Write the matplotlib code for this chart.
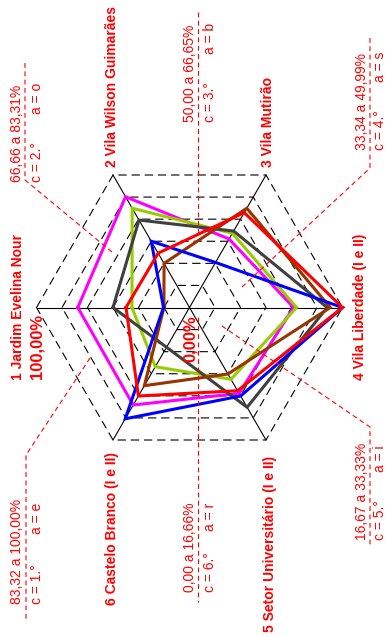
import numpy as np
import matplotlib
matplotlib.use('Agg')
import matplotlib.pyplot as plt

plt.rcParams['font.family'] = ['Liberation Sans', 'DejaVu Sans']
plt.rcParams['lines.scale_dashes'] = False

# eixos do radar (bairros), sentido horario a partir da esquerda
bairros = ['1 Jardim Evelina Nour', '2 Vila Wilson Guimarães', '3 Vila Mutirão',
           '4 Vila Liberdade (I e II)', '5 Setor Universitário (I e II)',
           '6 Castelo Branco (I e II)']

# valores (%) de cada serie, eixos 1 a 6
magenta = [73.0, 83.6, 51.7, 68.0, 64.8, 73.6]
verde = [37.6, 74.9, 56.0, 70.0, 54.2, 44.7]
cinza = [50.0, 66.0, 57.7, 90.0, 75.3, 30.0]
marrom = [16.7, 33.3, 74.9, 92.0, 50.2, 59.0]
azul = [17.0, 50.0, 34.0, 100.0, 66.8, 84.0]
vermelho = [41.5, 41.0, 71.6, 100.0, 62.8, 66.8]

series = [(magenta, '#FF00FF'), (verde, '#99CC00'), (cinza, '#404040'),
          (marrom, '#993300'), (azul, '#0000FF'), (vermelho, '#FF0000')]

# niveis da grade (%)
niveis = [100 / 6 * k for k in range(1, 7)]

# classes (texto de cada chamada)
classes = [('83,32 a 100,00%', 'c = 1.°', 'a = e'),
           ('66,66 a 83,31%', 'c = 2.°', 'a = o'),
           ('50,00 a 66,65%', 'c = 3.°', 'a = b'),
           ('33,34 a 49,99%', 'c = 4.°', 'a = s'),
           ('16,67 a 33,33%', 'c = 5.°', 'a = i'),
           ('0,00 a 16,66%', 'c = 6.°', 'a = r')]

W, H = 387, 637
CX, CY, R = 189.5, 307.5, 153.0
RED = '#FF0000'

fig = plt.figure(figsize=(W / 100, H / 100), dpi=100)

# radar em unidades do grafico (raio 100%)
ax = fig.add_axes([0, 0, 1, 1])
ax.set_xlim(-CX / R * 100, (W - CX) / R * 100)
ax.set_ylim(-(H - CY) / R * 100, CY / R * 100)
ax.axis('off')

ang = np.deg2rad(180 - 60 * np.arange(6))


def xy(vals):
    v = np.array(list(vals) + [vals[0]])
    a = np.append(ang, ang[0])
    return v * np.cos(a), v * np.sin(a)


# grade hexagonal tracejada
for n in niveis:
    gx, gy = xy([n] * 6)
    ax.plot(gx, gy, color='black', lw=0.8, dashes=(6, 3.5), zorder=1)

# eixos
for a in ang:
    ax.plot([0, 100 * np.cos(a)], [0, 100 * np.sin(a)], color='black', lw=0.8, zorder=1)

# series
for vals, cor in series:
    sx, sy = xy(vals)
    ax.plot(sx, sy, color=cor, lw=2.2, solid_joinstyle='miter', zorder=3)

# camada de textos em pixels
tx = fig.add_axes([0, 0, 1, 1], facecolor='none')
tx.set_xlim(0, W)
tx.set_ylim(H, 0)
tx.axis('off')

lab = dict(color=RED, fontsize=10, fontweight='bold', rotation=90, ha='center')
tx.text(112, 167, bairros[1], va='bottom', **lab)
tx.text(268, 167, bairros[2], va='bottom', **lab)
tx.text(18, 380, bairros[0], va='bottom', **lab)
tx.text(37, 379, '100,00%', va='bottom', color=RED, fontsize=12, fontweight='bold',
        rotation=90, ha='center')
tx.text(190, 362, '0,00%', va='bottom', color=RED, fontsize=12, fontweight='bold',
        rotation=90, ha='center')
tx.text(360, 307, bairros[3], va='center', **lab)
tx.text(112, 605, bairros[5], va='bottom', **lab)
tx.text(270, 632, bairros[4], va='bottom', **lab)

# chamadas das classes: linha tracejada + texto
leaders = [([90, 26, 26], [358, 455, 622]),
           ([25, 25, 112], [63, 180, 252]),
           ([198, 198], [12, 233]),
           ([370, 370, 242], [38, 168, 287]),
           ([222, 370, 370], [326, 427, 547]),
           ([198, 198], [317, 602])]
for lx, ly in leaders:
    tx.plot(lx, ly, color=RED, lw=0.8, dashes=(3.5, 2.5), zorder=2)

# (x da linha, y inicio do texto, y fim do texto, deslocamento da 2a linha)
pos = [(25, 503, 604, 12), (25, 83, 182, 12), (198, 23, 122, 12),
       (370, 52, 150, 10.5), (370, 445, 540, 10.5), (198, 503, 592, 12)]
reg = dict(color=RED, fontsize=10, rotation=90, ha='center')
for (faixa, c, a), (bx, y0, y1, dx) in zip(classes, pos):
    tx.text(bx - 8, y1, faixa, va='bottom', **reg)
    tx.text(bx + dx, y1, c, va='bottom', **reg)
    tx.text(bx + dx, y0, a, va='top', **reg)

fig.savefig('out.png', dpi=100)
